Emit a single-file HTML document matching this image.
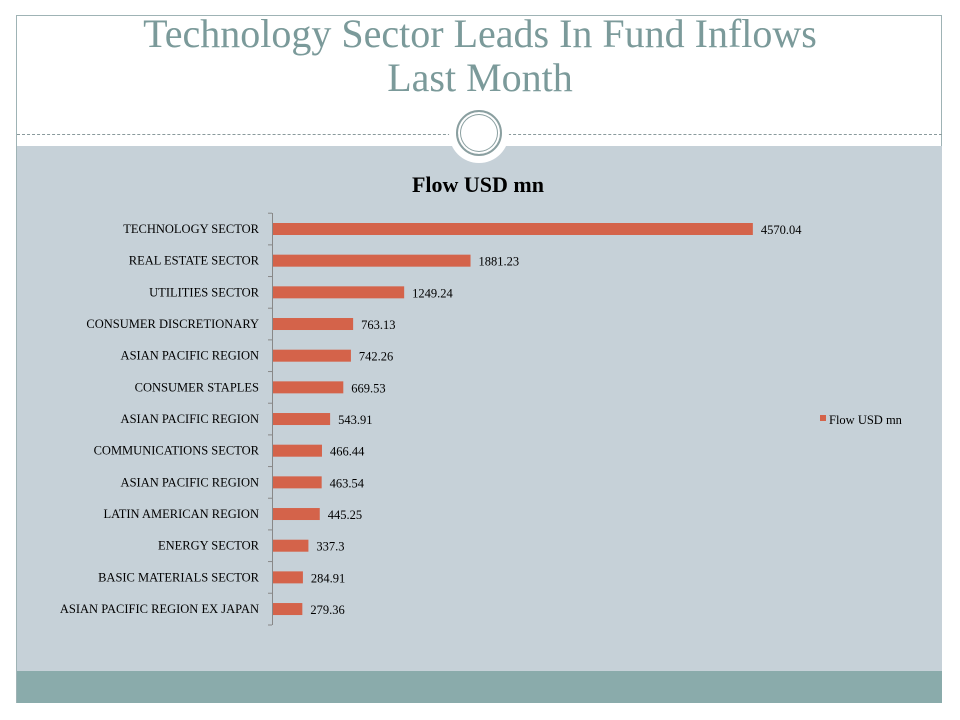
<!DOCTYPE html>
<html><head><style>
body{margin:0;width:960px;height:720px;background:#fff;position:relative;overflow:hidden;font-family:"Liberation Serif",serif}
</style></head><body>
<div style="position:absolute;left:16px;top:15px;width:926px;height:688px;border:1px solid #9fb3b5;box-sizing:border-box"></div>
<div style="position:absolute;left:17px;top:146px;width:925px;height:525px;background:#c6d1d8"></div>
<div style="position:absolute;left:17px;top:671px;width:925px;height:32px;background:#8aabab"></div>
<div style="position:absolute;left:17px;top:134px;width:925px;border-top:1px dashed #8a9a9c"></div>
<div style="position:absolute;left:449px;top:103px;width:60px;height:60px;border-radius:50%;background:#fff"></div>
<div style="position:absolute;left:456px;top:110px;width:42px;height:42px;border-radius:50%;border:2px solid #8a9fa0;box-shadow:inset 0 0 0 2px #fff,inset 0 0 0 3px #8a9fa0"></div>
<div style="position:absolute;left:0;top:12px;width:960px;text-align:center;font-size:40px;line-height:44px;color:#7b9a9a">Technology Sector Leads In Fund Inflows<br>Last Month</div>
<svg width="960" height="720" style="position:absolute;left:0;top:0" font-family="Liberation Serif, serif">
<text x="478" y="192" text-anchor="middle" font-size="22" font-weight="bold">Flow USD mn</text>
<line x1="272.5" y1="213" x2="272.5" y2="625" stroke="#888"/>
<g font-size="12.5" fill="#000">
<g id="bars"></g>
</g>
<rect x="820" y="415" width="6" height="6" fill="#d4634a"/>
<text x="829" y="424" font-size="12.5">Flow USD mn</text>
</svg>
<script>
var d=[["TECHNOLOGY SECTOR",4570.04,"4570.04"],["REAL ESTATE SECTOR",1881.23,"1881.23"],["UTILITIES SECTOR",1249.24,"1249.24"],["CONSUMER DISCRETIONARY",763.13,"763.13"],["ASIAN PACIFIC REGION",742.26,"742.26"],["CONSUMER STAPLES",669.53,"669.53"],["ASIAN PACIFIC REGION",543.91,"543.91"],["COMMUNICATIONS SECTOR",466.44,"466.44"],["ASIAN PACIFIC REGION",463.54,"463.54"],["LATIN AMERICAN REGION",445.25,"445.25"],["ENERGY SECTOR",337.3,"337.3"],["BASIC MATERIALS SECTOR",284.91,"284.91"],["ASIAN PACIFIC REGION EX JAPAN",279.36,"279.36"]];
var s="",k=0.105;
d.forEach(function(r,i){var c=229+i*31.67,w=r[1]*k;
s+='<rect x="273" y="'+(c-6)+'" width="'+w+'" height="12" fill="#d4634a"/>';
s+='<text x="259" y="'+(c+4)+'" text-anchor="end">'+r[0]+'</text>';
s+='<text x="'+(273+w+8)+'" y="'+(c+5)+'">'+r[2]+'</text>';
s+='<line x1="268" x2="272" y1="'+(c-15.8)+'" y2="'+(c-15.8)+'" stroke="#888"/>';});
s+='<line x1="268" x2="272" y1="625" y2="625" stroke="#888"/>';
document.getElementById("bars").innerHTML=s;
</script>
</body></html>
